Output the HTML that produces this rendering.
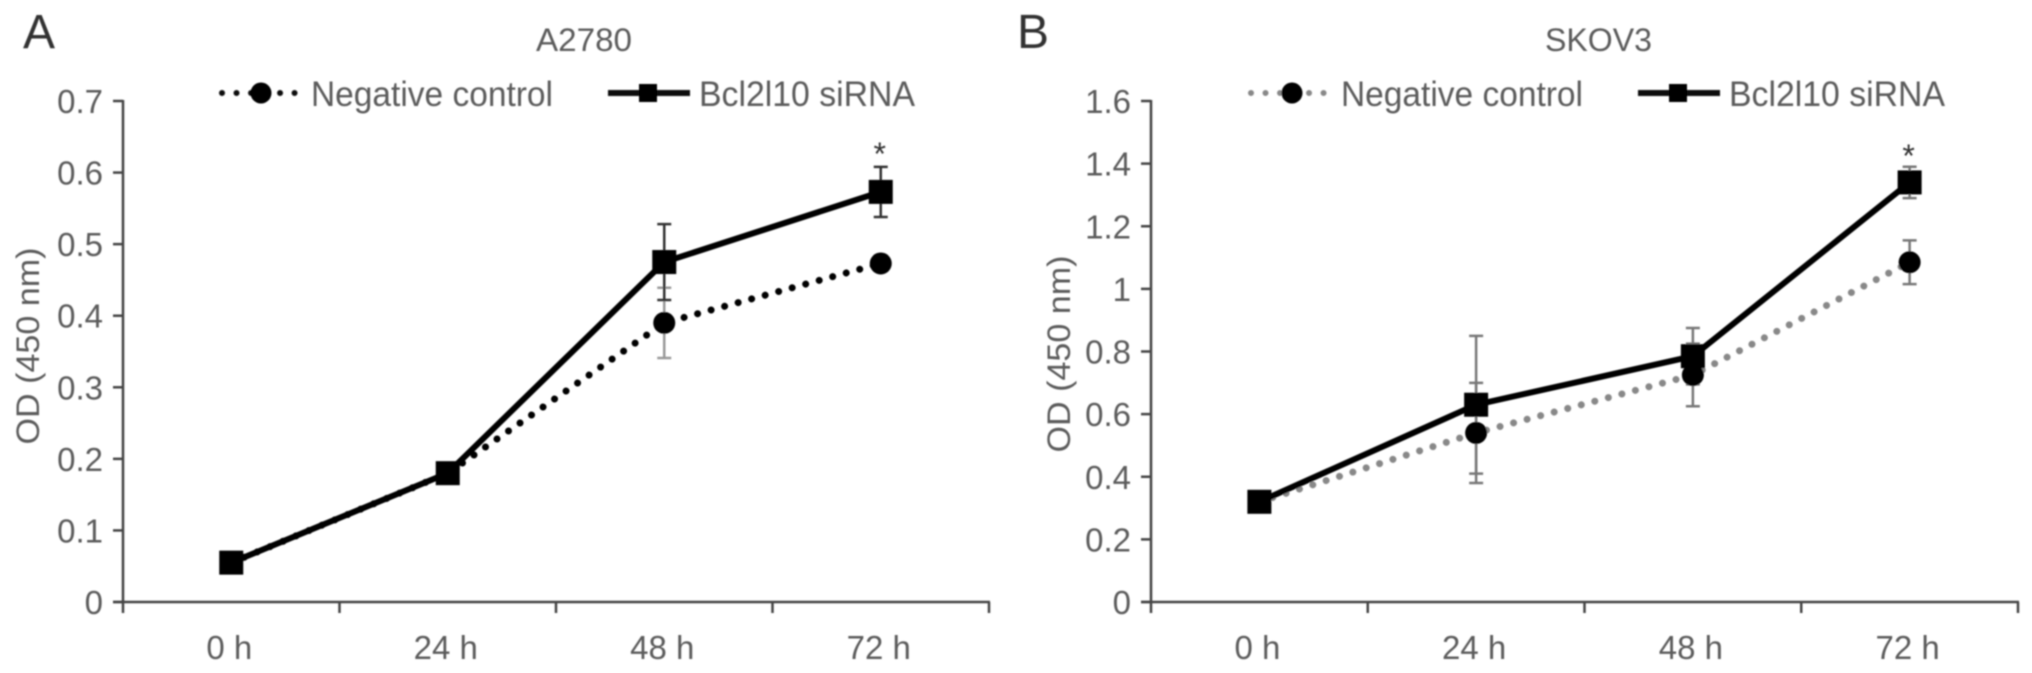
<!DOCTYPE html>
<html>
<head>
<meta charset="utf-8">
<title>A2780 and SKOV3 proliferation</title>
<style>
html,body{margin:0;padding:0;background:#fff;width:2032px;height:673px;overflow:hidden}
svg{display:block;font-family:"Liberation Sans",sans-serif}
text{fill:#5c5c5c}
</style>
</head>
<body>
<svg id="figure" width="2032" height="673" viewBox="0 0 2032 673" xmlns="http://www.w3.org/2000/svg">
<defs><filter id="soft" x="-2%" y="-2%" width="104%" height="104%"><feGaussianBlur stdDeviation="0.7"/></filter></defs>
<g id="root" filter="url(#soft)">
<text x="23" y="48" font-size="48" style="fill:#333">A</text>
<text x="1017" y="48" font-size="48" style="fill:#333">B</text>
<text x="536" y="51" font-size="32" textLength="96" lengthAdjust="spacingAndGlyphs">A2780</text>
<text x="1545" y="51" font-size="32" textLength="107" lengthAdjust="spacingAndGlyphs">SKOV3</text>
<text transform="translate(39,346) rotate(-90)" font-size="32" text-anchor="middle" textLength="197" lengthAdjust="spacingAndGlyphs">OD (450 nm)</text>
<text transform="translate(1070,354) rotate(-90)" font-size="32" text-anchor="middle" textLength="197" lengthAdjust="spacingAndGlyphs">OD (450 nm)</text>
<g>
<line x1="222" y1="93" x2="296" y2="93" stroke="#111" stroke-width="6" stroke-linecap="round" stroke-dasharray="0.01 14.5"/>
<circle cx="261" cy="93" r="10.5" fill="#000"/>
<text x="311" y="106" font-size="35" textLength="242" lengthAdjust="spacingAndGlyphs">Negative control</text>
<line x1="608" y1="93" x2="690" y2="93" stroke="#111" stroke-width="6"/>
<rect x="639" y="84" width="18" height="18" fill="#000"/>
<text x="699" y="106" font-size="35" textLength="216" lengthAdjust="spacingAndGlyphs">Bcl2l10 siRNA</text>
</g>
<g>
<line x1="1251" y1="93" x2="1328" y2="93" stroke="#888" stroke-width="6" stroke-linecap="round" stroke-dasharray="0.01 14.5"/>
<circle cx="1292" cy="93" r="10.5" fill="#000"/>
<text x="1341" y="106" font-size="35" textLength="242" lengthAdjust="spacingAndGlyphs">Negative control</text>
<line x1="1638" y1="93" x2="1720" y2="93" stroke="#111" stroke-width="6"/>
<rect x="1669" y="84" width="18" height="18" fill="#000"/>
<text x="1729" y="106" font-size="35" textLength="216" lengthAdjust="spacingAndGlyphs">Bcl2l10 siRNA</text>
</g>
</g>
</svg>
<script>
// Shared categories
const categories = ['0 h', '24 h', '48 h', '72 h'];

// Panel A (A2780)
const ticksA = ['0', '0.1', '0.2', '0.3', '0.4', '0.5', '0.6', '0.7'];
const negativeA = [0.055, 0.18, 0.39, 0.473];
const negativeErrA = [0, 0.01, 0.049, 0.01];
const bclA = [0.055, 0.18, 0.475, 0.573];
const bclErrA = [0, 0.01, 0.053, 0.035];

// Panel B (SKOV3)
const ticksB = ['0', '0.2', '0.4', '0.6', '0.8', '1', '1.2', '1.4', '1.6'];
const negativeB = [0.32, 0.54, 0.725, 1.085];
const negativeErrB = [0, 0.16, 0.1, 0.07];
const bclB = [0.32, 0.63, 0.785, 1.34];
const bclErrB = [0, 0.22, 0.09, 0.05];

const NS = 'http://www.w3.org/2000/svg';
const root = document.getElementById('root');

function make(tag, attrs, parent, txt) {
  const el = document.createElementNS(NS, tag);
  for (const k in attrs) el.setAttribute(k, attrs[k]);
  if (txt !== undefined) el.textContent = txt;
  parent.appendChild(el);
  return el;
}

function drawPanel(id, left, right, top, bottom, ticks, negative, negErr, bcl, bclErr, dotColor, negErrColor, bclErrColor, star) {
  const maxVal = parseFloat(ticks[ticks.length - 1]);
  const band = (right - left) / categories.length;
  const xScale = i => left + band * (i + 0.5);
  const yScale = v => bottom - (v / maxVal) * (bottom - top);

  const group = make('g', {}, root);
  
  

  const yAxis = make('line', { x1: left, y1: top - 1, x2: left, y2: bottom, stroke: '#444', 'stroke-width': 2.5 }, group);
  
  

  const xAxis = make('line', { x1: left - 10, y1: bottom, x2: right + 1, y2: bottom, stroke: '#444', 'stroke-width': 2.5 }, group);
  
  

  ticks.forEach((t, i) => {
    const y = yScale(parseFloat(t));
    const mark = make('line', { x1: left - 10, y1: y, x2: left, y2: y, stroke: '#444', 'stroke-width': 2.5 }, group);
    
    
    const label = make('text', { x: left - 20, y: y + 12, 'font-size': 33, 'text-anchor': 'end' }, group, t);
    
    
  });

  for (let i = 0; i <= categories.length; i++) {
    const x = left + band * i;
    const mark = make('line', { x1: x, y1: bottom, x2: x, y2: bottom + 11, stroke: '#444', 'stroke-width': 2.5 }, group);
    
    
  }

  categories.forEach((c, i) => {
    const label = make('text', { x: xScale(i) - 2, y: 659, 'font-size': 33, 'text-anchor': 'middle' }, group, c);
    
    
  });

  function errorBars(values, errs, name, color) {
    values.forEach((v, i) => {
      if (!errs[i]) return;
      const x = xScale(i), hi = yScale(v + errs[i]), lo = yScale(v - errs[i]);
      const bar = make('path', {
        d: 'M' + x + ' ' + hi + 'V' + lo + 'M' + (x - 7) + ' ' + hi + 'H' + (x + 7) + 'M' + (x - 7) + ' ' + lo + 'H' + (x + 7),
        fill: 'none', stroke: color, 'stroke-width': 2.5
      }, group);
      
      
    });
  }
  errorBars(negative, negErr, 'negative-control-' + id, negErrColor);
  errorBars(bcl, bclErr, 'bcl2l10-' + id, bclErrColor);

  const negPoints = negative.map((v, i) => xScale(i) + ',' + yScale(v)).join(' ');
  const negLine = make('polyline', { points: negPoints, fill: 'none', stroke: dotColor, 'stroke-width': 7, 'stroke-linecap': 'round', 'stroke-dasharray': '0.01 14' }, group);
  
  

  negative.forEach((v, i) => {
    const dot = make('circle', { cx: xScale(i), cy: yScale(v), r: 11, fill: '#000' }, group);
    
    
  });

  const bclPoints = bcl.map((v, i) => xScale(i) + ',' + yScale(v)).join(' ');
  const bclLine = make('polyline', { points: bclPoints, fill: 'none', stroke: '#000', 'stroke-width': 6 }, group);
  
  

  bcl.forEach((v, i) => {
    const sq = make('rect', { x: xScale(i) - 12, y: yScale(v) - 12, width: 24, height: 24, fill: '#000' }, group);
    
    
  });

  const last = categories.length - 1;
  const starEl = make('text', { x: xScale(last) - 1, y: star, 'font-size': 32, 'text-anchor': 'middle', style: 'fill:#333' }, group, '*');
  
  
}

drawPanel('a', 123, 989, 101, 602, ticksA, negativeA, negativeErrA, bclA, bclErrA, '#000', '#999', '#333', 165);
drawPanel('b', 1151, 2018, 101, 602, ticksB, negativeB, negativeErrB, bclB, bclErrB, '#888', '#777', '#777', 167);
</script>
</body>
</html>
